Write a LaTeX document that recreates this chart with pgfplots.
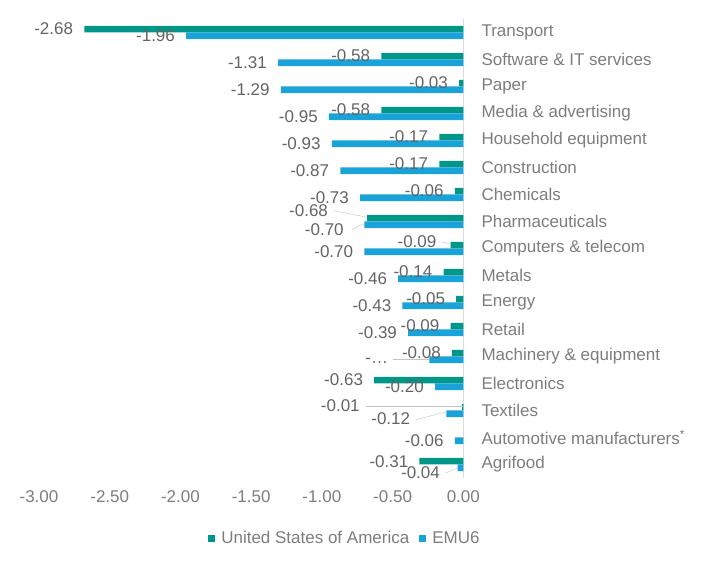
\documentclass[border=0pt]{standalone}
\usepackage{fontspec}
\setmainfont{Liberation Sans}
\usepackage{pgfplots}
\usepackage{pgfplotstable}
\pgfplotsset{compat=1.18}
\definecolor{usa}{RGB}{0,150,136}
\definecolor{emu}{RGB}{26,163,217}
\definecolor{lbl}{RGB}{100,100,100}
\definecolor{cat}{RGB}{125,125,125}
\definecolor{lead}{RGB}{195,195,195}
\definecolor{zline}{RGB}{220,220,220}

\pgfplotstableread{
y x label dx dy
16 -2.68 -2.68 0 0
15 -0.58 -0.58 0 0
14 -0.03 -0.03 0 0
13 -0.58 -0.58 0 0
12 -0.17 -0.17 0 0
11 -0.17 -0.17 0 0
10 -0.06 -0.06 0 0
9 -0.68 -0.68 -28 7
8 -0.09 -0.09 -3 3
7 -0.14 -0.14 0 0
6 -0.05 -0.05 0 0
5 -0.09 -0.09 0 0
4 -0.08 -0.08 0 0
3 -0.63 -0.63 0 0
2 -0.01 -0.01 -91 1.5
0 -0.31 -0.31 0 0
}\usatable

\pgfplotstableread{
y x label dx dy
16 -1.96 -1.96 0 0
15 -1.31 -1.31 0 0
14 -1.29 -1.29 0 0
13 -0.95 -0.95 0 0
12 -0.93 -0.93 0 0
11 -0.87 -0.87 0 0
10 -0.73 -0.73 0 0
9 -0.70 -0.70 -9.4 -5
8 -0.70 -0.70 0 0
7 -0.46 -0.46 0 0
6 -0.43 -0.43 0 0
5 -0.39 -0.39 0 0
4 -0.24 -… -30 -1
3 -0.20 -0.20 0 0
2 -0.12 -0.12 -25 -5
1 -0.06 -0.06 0 0
0 -0.04 -0.04 -6.6 -5
}\emutable

\pgfplotsset{
  barlabels/.style={
    point meta=explicit symbolic, nodes near coords,
    visualization depends on={\thisrow{dx} \as \dx},
    visualization depends on={\thisrow{dy} \as \dy},
    nodes near coords style={anchor=east, inner sep=0pt, text=lbl, xshift={(\dx-11)*1pt}, yshift={(\dy+#1)*1pt}}},
}

\begin{document}
\begin{tikzpicture}
\path[use as bounding box] (0,0) rectangle (709pt,567pt);
\begin{axis}[
  at={(39pt,89pt)}, anchor=south west,
  scale only axis, width=424.3pt, height=459pt,
  xmin=-3, xmax=0, ymin=-0.5, ymax=16.5,
  clip=false,
  axis line style={draw=none},
  tick style={draw=none},
  font=\fontsize{17}{20}\selectfont,
  xtick={-3,-2.5,-2,-1.5,-1,-0.5,0},
  xticklabels={-3.00,-2.50,-2.00,-1.50,-1.00,-0.50,0.00},
  xticklabel style={text=cat, yshift=-9pt},
  ytick={0,1,...,16},
  yticklabels={Agrifood, Automotive manufacturers\textsuperscript{*}, Textiles, Electronics, Machinery \& equipment, Retail, Energy, Metals, Computers \& telecom, Pharmaceuticals, Chemicals, Construction, Household equipment, Media \& advertising, Paper, Software \& IT services, Transport},
  yticklabel pos=right,
  yticklabel style={anchor=west, inner sep=0pt, xshift=18pt, text=cat},
  legend style={at={(0.721,-0.131)}, anchor=center, draw=none, fill=none,
    legend columns=2, text=cat, font=\fontsize{17}{20}\selectfont,
    /tikz/every odd column/.append style={column sep=4pt},
    /tikz/every even column/.append style={column sep=8pt}},
  legend image code/.code={\path[#1, draw=none] (0pt,-3.5pt) rectangle (7pt,3.5pt);},
]
\addplot[zline, line width=1pt, forget plot] coordinates {(0,-0.5) (0,16.5)};

\addplot[xbar, bar width=6.7pt, bar shift=3.35pt, fill=usa, draw=none, barlabels=3.35]
  table[x=x, y=y, meta=label] {\usatable};
\addlegendentry{United States of America}

\addplot[xbar, bar width=6.7pt, bar shift=-3.35pt, fill=emu, draw=none, barlabels=-3.35]
  table[x=x, y=y, meta=label] {\emutable};
\addlegendentry{EMU6}

\addplot[lead, thin, forget plot] coordinates {(-0.916,9.40) (-0.681,9.156)};
\addplot[lead, thin, forget plot] coordinates {(-0.790,8.685) (-0.710,8.907)};
\addplot[lead, thin, forget plot] coordinates {(-0.153,8.24) (-0.09,8.16)};
\addplot[lead, thin, forget plot] coordinates {(-0.4995,3.907) (-0.2406,3.907)};
\addplot[lead, thin, forget plot] coordinates {(-0.6906,2.141) (-0.002,2.141)};
\addplot[lead, thin, forget plot] coordinates {(-0.3368,1.659) (-0.1175,1.956)};
\addplot[lead, thin, forget plot] coordinates {(-0.1245,-0.315) (-0.0396,-0.13)};
\end{axis}
\end{tikzpicture}
\end{document}
